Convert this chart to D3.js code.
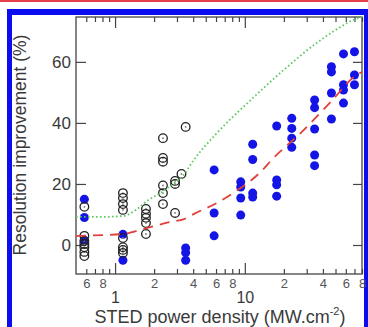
<!DOCTYPE html>
<html>
<head>
<meta charset="utf-8">
<script src="https://cdn.jsdelivr.net/npm/d3@7"></script>
<style>
  body { margin: 0; background: #fff; }
  svg { display: block; font-family: "Liberation Sans", Arial, sans-serif; }
</style>
</head>
<body>
<div id="chart"></div>
<script>
// power densities (MW.cm-2) and measured resolution improvements (%)
const bluePower = [0.58, 1.15, 3.5, 5.8, 9.3, 11.5, 17.6, 23, 34.5, 46.5, 57.6, 70];
const blueValues = [
  [15, 9, 1.5],
  [3.5, -5],
  [-1, -2.5, -5],
  [24.6, 10.5, 3],
  [20.7, 19, 15.4, 9.8],
  [33, 28, 17, 15.7],
  [39, 21.3, 19.7, 16],
  [41.5, 38.2, 35, 32],
  [47.5, 45, 38, 29.5, 26],
  [58.4, 56.7, 49.8, 41.3],
  [62.6, 52.5, 50.8, 46.5],
  [63.3, 55.7, 52.5]
];

const openPower = [0.58, 1.15, 1.73, 2.34, 2.9, 3.25, 3.5];
const openValues = [
  [12.5, 3, 1.3, 0.3, -0.7, -2.3, -3.6],
  [17, 15.4, 13.4, 11.5, 2.3, -0.7, -1.6, -2.6],
  [11.8, 10.2, 8.9, 7.2, 3.6],
  [35, 28.5, 27.3, 19.5, 17, 13.4],
  [21, 20, 10.5],
  [23.3],
  [38.7]
];

// green dotted curve
const greenPower = [0.5, 0.77, 1.15, 1.45, 1.76, 2.3, 2.8, 3.33, 4.05, 6.1, 11.1, 20, 35.8, 55, 69, 80];
const greenValue = [9.2, 9.2, 9.5, 11.5, 14.4, 17.4, 20, 22.6, 27.9, 36.7, 47.5, 57.4, 66.2, 71.5, 73.8, 74.7];

// red dashed curve
const redPower = [0.5, 1.15, 1.64, 2.65, 3.4, 4.06, 6.3, 7.9, 13.5, 16.1, 27.4, 38.2, 46, 72.6, 80];
const redValue = [3.0, 3.6, 5.2, 7.5, 8.5, 10.2, 14.1, 16.7, 24.3, 27.9, 37, 43.3, 46.9, 55.7, 56.7];

const yTicks = [0, 20, 40, 60];
const xMinor = [0.6, 0.7, 0.8, 0.9, 2, 3, 4, 5, 6, 7, 8, 9, 20, 30, 40, 50, 60, 70, 80];
const xMinorLabeled = [0.6, 0.8, 2, 4, 6, 8, 20, 40, 60, 80];
const xMajor = [1, 10];

const W = 368, H = 327;
const plotL = 76, plotR = 362, plotT = 17, plotB = 274;

const svg = d3.select("#chart").append("svg")
  .attr("width", W).attr("height", H);

svg.append("rect").attr("width", W).attr("height", H).attr("fill", "#fff");

// page decoration: red rule and blue frame
svg.append("rect").attr("x", 0).attr("y", 0).attr("width", W).attr("height", 2).attr("fill", "#e4404c");
svg.append("rect").attr("x", 7).attr("y", 9).attr("width", W - 7).attr("height", 6).attr("fill", "#0c0cf0");
svg.append("rect").attr("x", 7).attr("y", 9).attr("width", 5).attr("height", H - 9).attr("fill", "#0c0cf0");
svg.append("rect").attr("x", 364).attr("y", 9).attr("width", 4).attr("height", H - 9).attr("fill", "#0c0cf0");

const x = d3.scaleLog().domain([0.5, 80]).range([plotL, plotR]);
const y = d3.scaleLinear().domain([-9.5, 74.7]).range([plotB, plotT]);

const ink = "#3a3a3a";

// bottom axis: minor ticks with small labels
const mantissa = d => Math.round(d / Math.pow(10, Math.floor(Math.log10(d) + 1e-9)));
const xMinorAxis = d3.axisBottom(x).tickValues(xMinor).tickSizeInner(-5).tickSizeOuter(0)
  .tickPadding(5)
  .tickFormat(d => xMinorLabeled.includes(d) ? String(mantissa(d)) : "");
const gxm = svg.append("g").attr("transform", `translate(0,${plotB})`).call(xMinorAxis);
gxm.selectAll("text").attr("font-size", 13).attr("fill", "#555");

const xMajorAxis = d3.axisBottom(x).tickValues(xMajor).tickSizeInner(-11).tickSizeOuter(0)
  .tickPadding(18).tickFormat(d3.format("d"));
const gxM = svg.append("g").attr("transform", `translate(0,${plotB})`).call(xMajorAxis);
gxM.selectAll("text").attr("font-size", 16).attr("fill", ink);

// top axis mirror ticks
svg.append("g").attr("transform", `translate(0,${plotT})`)
  .call(d3.axisTop(x).tickValues(xMinor).tickSizeInner(-5).tickSizeOuter(0).tickFormat(""));
svg.append("g").attr("transform", `translate(0,${plotT})`)
  .call(d3.axisTop(x).tickValues(xMajor).tickSizeInner(-11).tickSizeOuter(0).tickFormat(""));

// left and right axes
const gy = svg.append("g").attr("transform", `translate(${plotL},0)`)
  .call(d3.axisLeft(y).tickValues(yTicks).tickSizeInner(-10).tickSizeOuter(0).tickPadding(5));
gy.selectAll("text").attr("font-size", 17).attr("fill", ink);
svg.append("g").attr("transform", `translate(${plotR},0)`)
  .call(d3.axisRight(y).tickValues(yTicks).tickSizeInner(-9).tickSizeOuter(0).tickFormat(""));

svg.selectAll(".domain").remove();
svg.selectAll(".tick line").attr("stroke", "#444").attr("stroke-width", 1.2);

svg.append("rect")
  .attr("x", plotL).attr("y", plotT).attr("width", plotR - plotL).attr("height", plotB - plotT)
  .attr("fill", "none").attr("stroke", "#444").attr("stroke-width", 1.3);

// markers
const flat = (power, values) => power.flatMap((p, i) => values[i].map(v => ({ p, v })));

svg.append("g").selectAll("circle")
  .data(flat(bluePower, blueValues))
  .join("circle")
  .attr("cx", d => x(d.p)).attr("cy", d => y(d.v)).attr("r", 4.5)
  .attr("fill", "#1414e6");

const openG = svg.append("g").selectAll("g")
  .data(flat(openPower, openValues))
  .join("g")
  .attr("transform", d => `translate(${x(d.p)},${y(d.v)})`);
openG.append("circle").attr("r", 4.3).attr("fill", "none").attr("stroke", "#222").attr("stroke-width", 1.3);
openG.append("circle").attr("r", 0.9).attr("fill", "#777");

// curves
const line = d3.line().x(d => x(d[0])).y(d => y(d[1])).curve(d3.curveMonotoneX);

svg.append("path")
  .datum(greenPower.map((p, i) => [p, greenValue[i]]))
  .attr("d", line)
  .attr("fill", "none").attr("stroke", "#5cc95c").attr("stroke-width", 1.8)
  .attr("stroke-dasharray", "1.6,2.4");

svg.append("path")
  .datum(redPower.map((p, i) => [p, redValue[i]]))
  .attr("d", line)
  .attr("fill", "none").attr("stroke", "#e0403a").attr("stroke-width", 1.8)
  .attr("stroke-dasharray", "10,7");

// axis titles
svg.append("text")
  .attr("transform", "translate(26,145) rotate(-90)")
  .attr("text-anchor", "middle").attr("font-size", 17.5).attr("fill", ink)
  .text("Resolution improvement (%)");

const xt = svg.append("text")
  .attr("x", 220).attr("y", 323)
  .attr("text-anchor", "middle").attr("font-size", 18).attr("fill", ink);
xt.append("tspan").text("STED power density (MW.cm");
xt.append("tspan").attr("font-size", 11).attr("dy", -8).text("-2");
xt.append("tspan").attr("dy", 8).text(")");
</script>
</body>
</html>
